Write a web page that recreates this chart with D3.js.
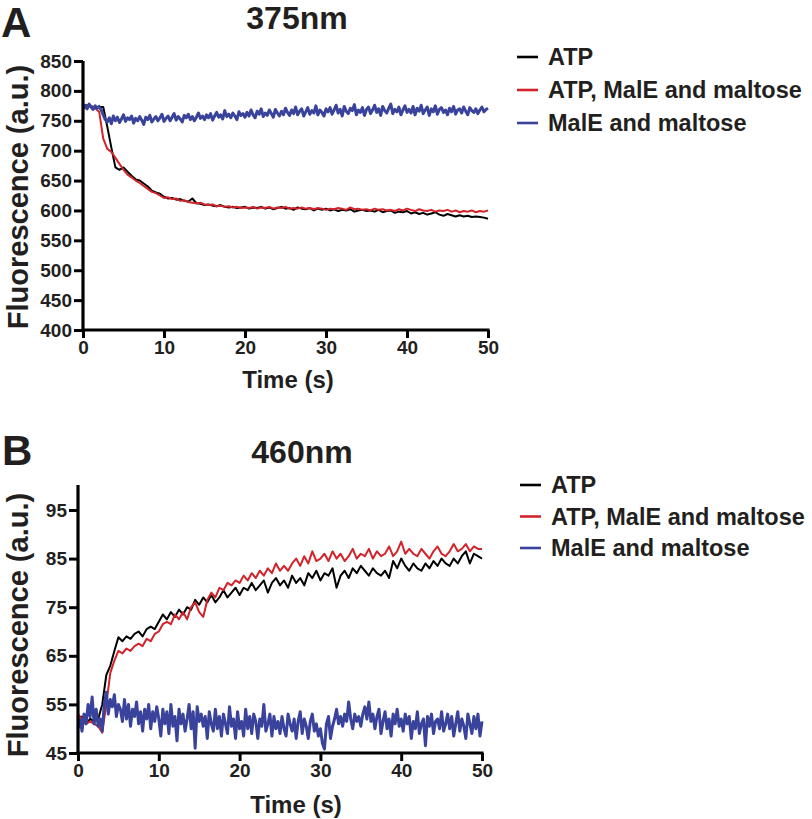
<!DOCTYPE html>
<html><head><meta charset="utf-8">
<script src="https://cdn.jsdelivr.net/npm/d3@7"></script>
<style>
body{margin:0;background:#fff;}
svg text{font-family:"Liberation Sans",Arial,Helvetica,sans-serif;font-weight:bold;fill:#231f20;}
</style></head><body>
<svg id="chart" width="812" height="819"></svg>
<script>
// ---------- DATA ----------
const seriesNames = ["ATP", "ATP, MalE and maltose", "MalE and maltose"];
const seriesColors = ["#000000", "#d2232a", "#3a439b"];
const xTicks = [0, 10, 20, 30, 40, 50];
const yTicksA = [400, 450, 500, 550, 600, 650, 700, 750, 800, 850];
const yTicksB = [45, 55, 65, 75, 85, 95];
const stepCoarse = 0.5;   // s, for ATP traces
const stepFine = 0.25;    // s, for MalE traces

const atpA = [775,776,774,772,773,773,740,705,672,668,672,665,658,652,650,645,640,633,630,628,623,620,621,618,619,616,615,620,612,611,609,610,608,607,609,606,605,606,604,605,606,603,605,604,606,603,605,602,604,606,603,604,601,605,603,602,604,600,603,601,603,600,602,599,601,600,602,598,600,601,599,600,598,601,597,599,600,596,598,597,599,595,597,594,596,593,595,597,593,591,594,592,590,592,590,591,589,590,589,588,586];
const atpMalA = [770,772,775,771,765,720,703,698,688,678,668,660,655,650,646,641,636,631,629,625,621,622,619,620,616,617,614,613,612,613,610,609,610,607,608,606,607,605,606,604,605,604,606,603,605,604,606,603,605,604,606,603,604,603,605,603,604,602,604,603,601,603,602,604,603,601,605,602,603,601,602,600,603,601,602,600,601,599,602,600,603,601,599,602,600,599,601,598,600,599,601,598,600,597,599,598,600,597,599,598,600];
const malA = [772,776,770,778,773,769,775,771,774,
 768,760,752,748,755,745,
 758,750,756,747,753,760,
 749,755,752,758,746,754,750,757,751,744,756,752,759,748,753,757,750,755,761,749,
 754,758,750,756,762,751,757,753,748,759,755,761,752,757,750,756,763,754,758,752,
 760,755,762,751,758,764,756,760,753,767,757,761,755,763,758,752,765,759,762,756,
 764,758,768,760,755,766,761,770,757,763,759,768,762,756,769,763,758,766,760,771,
 764,759,768,762,773,760,766,770,758,765,772,761,767,763,775,760,768,764,758,770,
 765,772,761,768,776,763,769,758,774,766,762,771,767,777,760,768,764,772,759,769,
 773,762,768,776,764,770,759,774,767,763,771,778,762,769,765,773,760,768,775,764,
 769,763,774,760,771,766,776,762,768,773,759,770,765,775,761,769,772,764,768,760,
 771,765,774,761,768,770,763,773,766,760,772,767,764,770,762,768,773,765,769,771];

const atpB = [51,52.5,51,52,51.5,52,55,61,63,66,68.8,68,69,68.5,69.5,70,69,70.5,71,70.5,72,73.5,72.5,74,73,74.5,73.5,75,74.5,76.5,75.5,77,76,77.5,76,77,78.5,77,78,79,77.5,79,78.5,80,78.5,79.5,80.5,78,80,81,79.5,80.5,79,81.5,80,81,79.5,82,81,82.5,80.5,82,81.5,83,79,81.5,82.5,81,83,82,83.5,82.5,81.5,83,82,81.5,82.5,81,84.5,83,85,83.5,82.5,84,83,82.5,84,83,84.5,83.5,85,84,83.5,85,84,85.5,86.5,84,86,85.5,85];
const atpMalB = [53,52,51,51.5,51,50.5,49.2,55,61.5,64,66,65.5,66.5,66,67,67.5,67,68.5,68,69.5,70,71.5,72,71.5,73.5,72.5,74,72.5,75,76,74,73,76.5,78,77,79,78.5,80,79.5,80.5,80,81.5,80.5,82,81,82.5,81.5,83,82,84,82.5,83.5,82.5,84,85,83.5,85.5,84,86.5,84.5,85,86,84.5,86.5,85,86,84.5,85.5,87,85,86,85.5,87,85,86.5,85.5,86,87.5,85.5,86.5,88.5,86,87,86,85.5,87,86,85,86.5,87.5,86,85.5,86.5,88,86.5,87,88,86.5,87.5,87,87];
const malB = [50,52,49.5,53,51,55,52.5,56.5,51,
 54,50.5,52,49.5,55,57.5,
 53,56,54.5,57,52.5,55,
 54,51.5,56,52,55,50.5,54,52.5,55.5,51,53.5,49.5,54,52,55,50,53.5,51.5,54.5,52,
 48.5,54,51,53.5,49,55,50.5,52.5,47.5,54,51,53,49.5,52,55,50,53.5,46,54.5,51.5,
 53,50.5,52.5,48,53.5,51,49.5,54,50,52.5,48.5,53,51,49,54.5,50.5,52,48,53.5,50,
 51.5,48.5,54,50,52.5,49,53,51.5,48,52,50.5,55,49.5,51,53,48.5,52.5,50,51.5,49,
 52.5,50,48.5,53,51,49.5,52,48,51.5,53.5,49,52,50.5,48,51.5,53,49.5,51,48.5,50,
 47,45.8,51,52.5,48,50.5,52,54,51,52.5,50.5,53,51.5,55.5,52,50,53,51.5,52.5,50.5,
 53,54.5,52,55.5,51.5,53,50,52.5,54,49,51.5,53.5,50,52,48.5,53,51,54,50.5,52,
 49.5,53,51,52.5,48,51.5,50,53.5,49,51,52,46.5,52.5,50.5,53,49,51.5,52,50,53.5,
 49.5,51,53,50,52.5,48.5,51,53.5,49.5,52,50.5,48,53,51,49,52.5,50,53,48.5,51.5];

// ---------- DRAW ----------
const svg = d3.select("#chart");

function panel(cfg){
  const g = svg.append("g");
  const x = d3.scaleLinear().domain([0,50]).range([cfg.x0, cfg.x1]);
  const y = d3.scaleLinear().domain(cfg.yDomain).range([cfg.yBottom, cfg.yTop]);

  const line = d3.line().x(d=>x(d[0])).y(d=>y(d[1]));
  const sets = [
    {vals: cfg.s[0], step: stepCoarse, w: 2, c: seriesColors[0]},
    {vals: cfg.s[1], step: stepCoarse, w: 2, c: seriesColors[1]},
    {vals: cfg.s[2], step: stepFine, w: 3, c: seriesColors[2]}
  ];
  [0,1,2].forEach(i=>{
    const s = sets[i];
    g.append("path").datum(s.vals.map((v,k)=>[k*s.step, v]))
      .attr("d", line).attr("fill","none").attr("stroke", s.c)
      .attr("stroke-width", s.w).attr("stroke-linejoin","round");
  });

  const xa = g.append("g").attr("transform",`translate(0,${cfg.yBottom})`)
    .call(d3.axisBottom(x).tickValues(xTicks).tickSize(8).tickPadding(3).tickSizeOuter(0));
  const ya = g.append("g").attr("transform",`translate(${cfg.x0},0)`)
    .call(d3.axisLeft(y).tickValues(cfg.yTicks).tickSize(9).tickPadding(2).tickSizeOuter(0));
  [xa, ya].forEach(a=>{
    a.selectAll("path.domain").attr("stroke","#000").attr("stroke-width",3.2);
    a.selectAll(".tick line").attr("stroke","#000").attr("stroke-width",3);
    a.selectAll(".tick text").style("font-size","19px").attr("fill","#231f20")
      .style("font-family",'"Liberation Sans",Arial,sans-serif').style("font-weight","bold");
  });
  ya.select("path.domain").attr("d", `M0,${cfg.yBottom+1.5}V${cfg.yTop}`);
  xa.select("path.domain").attr("d", `M${cfg.x0-1.5},0H${cfg.x1+1.5}`);

  g.append("text").attr("x", cfg.letterX).attr("y", cfg.letterY).text(cfg.letter)
    .style("font-size","42px");
  g.append("text").attr("x", cfg.titleX).attr("y", cfg.titleY).attr("text-anchor","middle")
    .text(cfg.title).style("font-size","32px");
  g.append("text").attr("x", cfg.xtX).attr("y", cfg.xtY).attr("text-anchor","middle")
    .text("Time (s)").style("font-size","24px");
  g.append("text").attr("transform",`translate(${cfg.ytX},${cfg.ytY}) rotate(-90)`)
    .attr("text-anchor","middle").text("Fluorescence (a.u.)").style("font-size","29px");

  seriesNames.forEach((n,i)=>{
    const yy = cfg.legY + i*cfg.legDy;
    g.append("line").attr("x1",cfg.legX).attr("x2",cfg.legX+21).attr("y1",yy).attr("y2",yy)
      .attr("stroke",seriesColors[i]).attr("stroke-width",2.6);
    g.append("text").attr("x",cfg.legX+31).attr("y",yy).attr("dy","0.35em")
      .text(n).style("font-size","23.5px");
  });
}

panel({x0:83, x1:488, yBottom:330, yTop:61, yDomain:[400,850], yTicks:yTicksA,
  s:[atpA, atpMalA, malA],
  letter:"A", letterX:1, letterY:37, title:"375nm", titleX:297, titleY:29,
  xtX:288, xtY:388, ytX:28, ytY:197, legX:517, legY:57, legDy:33});

panel({x0:78, x1:482, yBottom:753, yTop:485, yDomain:[45, 45+(753-485)/4.86], yTicks:yTicksB,
  s:[atpB, atpMalB, malB],
  letter:"B", letterX:2, letterY:465, title:"460nm", titleX:302, titleY:463,
  xtX:296, xtY:813, ytX:28, ytY:625, legX:520, legY:485, legDy:31.5});
</script>
</body></html>
